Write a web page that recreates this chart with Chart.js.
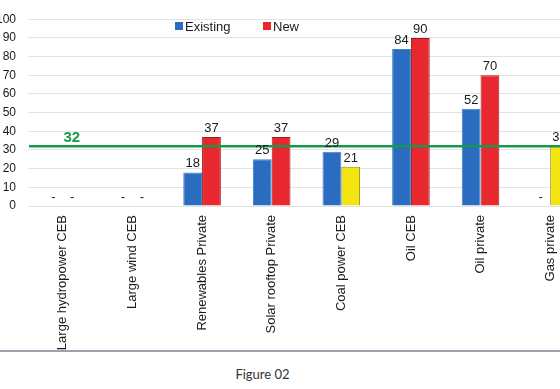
<!DOCTYPE html>
<html>
<head>
<meta charset="utf-8">
<script src="https://cdn.jsdelivr.net/npm/chart.js@4/dist/chart.umd.min.js"></script>
<style>
  html, body { margin: 0; padding: 0; background: #fff; overflow: hidden; width: 560px; height: 389px; }
  #wrap { position: absolute; left: 0; top: 0; width: 600px; height: 350px; }
  #sep { position: absolute; left: 0; top: 350px; width: 560px; height: 0; border-top: 2px solid #9aa4ae; }
  #cap { position: absolute; left: 0; top: 366px; width: 525px; text-align: center; font: 13px Lato, "Liberation Sans", sans-serif; color: #333; }
</style>
</head>
<body>
<div id="wrap"><canvas id="c"></canvas></div>
<div id="sep"></div>
<div id="cap">Figure 02</div>
<script>
const categories = ["Large hydropower CEB", "Large wind CEB", "Renewables Private", "Solar rooftop Private", "Coal power CEB", "Oil CEB", "Oil private", "Gas private"];
const seriesNames = ["Existing", "New"];
const existingValues = [0, 0, 18, 25, 29, 84, 52, 0];
const newValues = [0, 0, 37, 37, 21, 90, 70, 32];
const thresholdValue = 32;
const yTicks = [0, 10, 20, 30, 40, 50, 60, 70, 80, 90, 100];
const yellowNewCategories = ["Coal power CEB", "Gas private"];

const BLUE = '#2a6cbf', BLUE_B = '#3f7fcf';
const RED = '#e8282e', RED_B = '#9c1c1f';
const YEL = '#f3e40f', YEL_B = '#8f8a1f';
const GREEN = '#16994a';
const FONT = '"Liberation Sans", Arial, sans-serif';

const labelPlugin = {
  id: 'valueLabels',
  afterDatasetsDraw(chart) {
    const ctx = chart.ctx;
    ctx.save();
    // threshold line
    const ys = chart.scales.y;
    const yPos = ys.getPixelForValue(thresholdValue);
    ctx.strokeStyle = GREEN;
    ctx.lineWidth = 2.6;
    ctx.beginPath();
    ctx.moveTo(chart.chartArea.left + 1, yPos);
    ctx.lineTo(chart.width, yPos);
    ctx.stroke();
    ctx.fillStyle = GREEN;
    ctx.font = 'bold 15px ' + FONT;
    ctx.textAlign = 'center';
    ctx.textBaseline = 'alphabetic';
    const xs = chart.scales.x;
    ctx.fillText(String(thresholdValue), xs.getPixelForValue(0) + 9, yPos - 4);
    // value labels
    ctx.font = '13px ' + FONT;
    ctx.fillStyle = '#1a1a1a';
    chart.data.datasets.forEach((ds, di) => {
      const meta = chart.getDatasetMeta(di);
      meta.data.forEach((el, i) => {
        const v = ds.data[i];
        const txt = v === 0 ? '-' : String(v);
        ctx.fillText(txt, el.x, el.y - 5);
      });
    });
    // legend
    ctx.font = '13px ' + FONT;
    ctx.textAlign = 'left';
    ctx.textBaseline = 'middle';
    const legendY = 26;
    const items = [{x: 175, c: BLUE}, {x: 263, c: RED}];
    chart.data.datasets.forEach((ds, di) => {
      const it = items[di];
      ctx.fillStyle = it.c;
      ctx.fillRect(it.x, legendY - 4, 8, 8);
      ctx.fillStyle = '#1a1a1a';
      ctx.fillText(ds.label, it.x + 10, legendY + 1);
    });
    ctx.restore();
  }
};

new Chart(document.getElementById('c'), {
  type: 'bar',
  data: {
    labels: categories,
    datasets: [
      {
        label: seriesNames[0],
        data: existingValues,
        backgroundColor: BLUE,
        borderColor: BLUE_B,
        borderWidth: 1
      },
      {
        label: seriesNames[1],
        data: newValues,
        backgroundColor: (c) => yellowNewCategories.includes(categories[c.dataIndex]) ? YEL : RED,
        borderColor: (c) => yellowNewCategories.includes(categories[c.dataIndex]) ? YEL_B : RED_B,
        borderWidth: 1
      }
    ]
  },
  options: {
    responsive: true,
    maintainAspectRatio: false,
    animation: false,
    layout: { padding: { top: 16, right: 15, left: 0, bottom: 0 } },
    categoryPercentage: 0.54,
    barPercentage: 1,
    plugins: { legend: { display: false }, tooltip: { enabled: false } },
    scales: {
      x: {
        grid: { display: false, drawTicks: false },
        border: { display: false },
        ticks: {
          minRotation: 90, maxRotation: 90, autoSkip: false, padding: 9,
          font: { family: FONT, size: 13 }, color: '#1a1a1a'
        },
        afterFit(s) { s.height = 144; }
      },
      y: {
        min: 0, max: 100,
        afterBuildTicks(s) { s.ticks = yTicks.map(v => ({ value: v })); },
        grid: { color: '#e2e2e2', drawTicks: false },
        border: { display: false },
        ticks: { padding: 12, font: { family: FONT, size: 12 }, color: '#1a1a1a' },
        afterFit(s) { s.width = 28; }
      }
    }
  },
  plugins: [labelPlugin]
});
</script>
</body>
</html>
